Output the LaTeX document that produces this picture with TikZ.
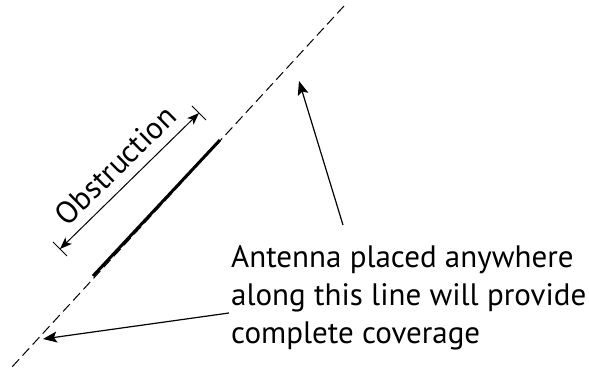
\documentclass[tikz,border=0pt]{standalone}
\usepackage{fontspec}
\setmainfont{PT Sans}
\usetikzlibrary{arrows.meta}
\tikzset{
  guide/.style={line width=1pt, dash pattern=on 10pt off 5pt},
  obst/.style={line width=3pt},
  pointer/.style={line width=1.2pt, -{Stealth[length=14pt,width=11pt,inset=3pt]}},
  dimline/.style={line width=1pt, {Stealth[length=12pt,width=9pt,inset=3pt]}-{Stealth[length=12pt,width=9pt,inset=3pt]}},
  tick/.style={line width=1pt},
  lbl/.style={font=\fontsize{31}{38}\selectfont, inner sep=0pt},
  big/.style={font=\fontsize{31}{38}\selectfont, inner sep=0pt}
}
\begin{document}
\begin{tikzpicture}[x=1pt,y=-1pt]
\useasboundingbox (0,0) rectangle (589,371);
% dashed guide line
\coordinate (gtop) at (344,6);
\coordinate (gbot) at (12,367);
\draw[guide] (gtop) -- (gbot);
% obstruction
\coordinate (otop) at (220,140);
\coordinate (obot) at (93,276);
\draw[obst] (otop) -- (obot);
% dimension
\coordinate (d1) at (60,249);
\coordinate (d2) at (199,113);
\coordinate (t1a) at (53,242);
\coordinate (t1b) at (67,256);
\coordinate (t2a) at (192,106);
\coordinate (t2b) at (206,120);
\draw[tick] (t1a) -- (t1b);
\draw[tick] (t2a) -- (t2b);
\draw[dimline] (d1) -- (d2);
\node[lbl, rotate=44.5, anchor=base] (obsl) at (123,173) {Obstruction};
% main text (anchor: baseline of last line)
\node[big, align=left, anchor=base west] (txt) at (231,343)
  {Antenna placed anywhere\\along this line will provide\\complete coverage};
% pointers
\coordinate (p1tail) at (343,225);
\coordinate (p1tip) at (299,81);
\coordinate (p2tail) at (229,313);
\coordinate (p2tip) at (43,339);
\draw[pointer] (p1tail) -- (p1tip);
\draw[pointer] (p2tail) -- (p2tip);
\end{tikzpicture}
\end{document}
